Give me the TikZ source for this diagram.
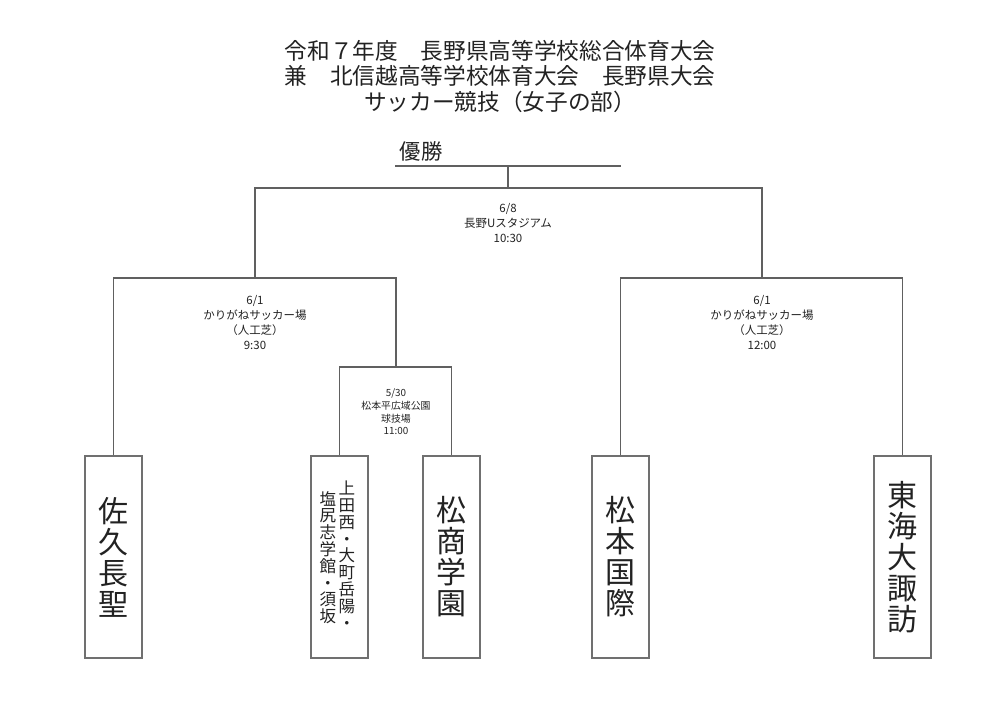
\documentclass[tikz,border=0pt]{standalone}
\usepackage{fontspec}
\setmainfont{Noto Sans CJK JP}
\usepackage{tikz}
\definecolor{linegray}{HTML}{606060}
\definecolor{boxgray}{HTML}{707070}
\definecolor{inkgray}{HTML}{222222}

\tikzset{
    team/.style={draw=boxgray, line width=1.3pt, minimum width=42.75pt, minimum height=151.5pt,
        inner sep=0pt, align=center, text=inkgray, font=\fontsize{22.5}{23.25}\selectfont},
    bracket/.style={draw=linegray, line width=0.9pt},
    venue/.style={align=center, text=inkgray, font=\fontsize{8.6}{11.25}\selectfont},
    smallvenue/.style={align=center, text=inkgray, font=\fontsize{7.4}{9.5}\selectfont},
    column/.style={align=center, inner sep=0pt, text=inkgray, font=\fontsize{12.4}{12.6}\selectfont}
}

\begin{document}
\begin{tikzpicture}[x=0.75pt, y=-0.75pt]

\useasboundingbox (0,0) rectangle (1000,701);

% title
\node[align=center, text=inkgray, font=\fontsize{17}{19.1}\selectfont] (title) at (500,76.5)
    {令和７年度　長野県高等学校総合体育大会\\兼　北信越高等学校体育大会　長野県大会\\サッカー競技（女子の部）};

% winner
\node[text=inkgray, font=\fontsize{16}{16}\selectfont] (yusho) at (421,151) {優勝};
\coordinate (winL) at (395,166);
\coordinate (winR) at (621,166);
\coordinate (win) at (508,166);

% junctions
\coordinate (fin) at (508,188);  % final
\coordinate (sfL) at (255,278);  % semi left
\coordinate (sfR) at (762,278);  % semi right
\coordinate (qf) at (396,367);   % 5/30

% teams
\node[team] (saku) at (113.5,557) {佐\\久\\長\\聖};
\node[team] (ueda) at (339.5,557) {};
\node[column] (uedaR) at (347,555) {上\\田\\西\\・\\大\\町\\岳\\陽\\・};
\node[column] (uedaL) at (328,557.5) {塩\\尻\\志\\学\\館\\・\\須\\坂};
\node[team] (shoshou) at (451.5,557) {松\\商\\学\\園};
\node[team] (kokusai) at (620.5,557) {松\\本\\国\\際};
\node[team] (tokai) at (902.5,557) {東\\海\\大\\諏\\訪};

% lines
\draw[bracket] (winL) -- (winR);
\draw[bracket] (fin) -- (win);
\draw[bracket] (sfL) |- (fin) -| (sfR);
\draw[bracket] (saku.north) |- (sfL) -| (qf);
\draw[bracket] (ueda.north) |- (qf) -| (shoshou.north);
\draw[bracket] (kokusai.north) |- (sfR) -| (tokai.north);

% venues
\node[venue] (vfin) at (508,223) {6/8\\長野Uスタジアム\\10:30};
\node[venue] (vsfL) at (255,322.5) {6/1\\かりがねサッカー場\\（人工芝）\\9:30};
\node[venue] (vsfR) at (762,322.5) {6/1\\かりがねサッカー場\\（人工芝）\\12:00};
\node[smallvenue] (vqf) at (396,412) {5/30\\松本平広域公園\\球技場\\11:00};

\end{tikzpicture}
\end{document}
